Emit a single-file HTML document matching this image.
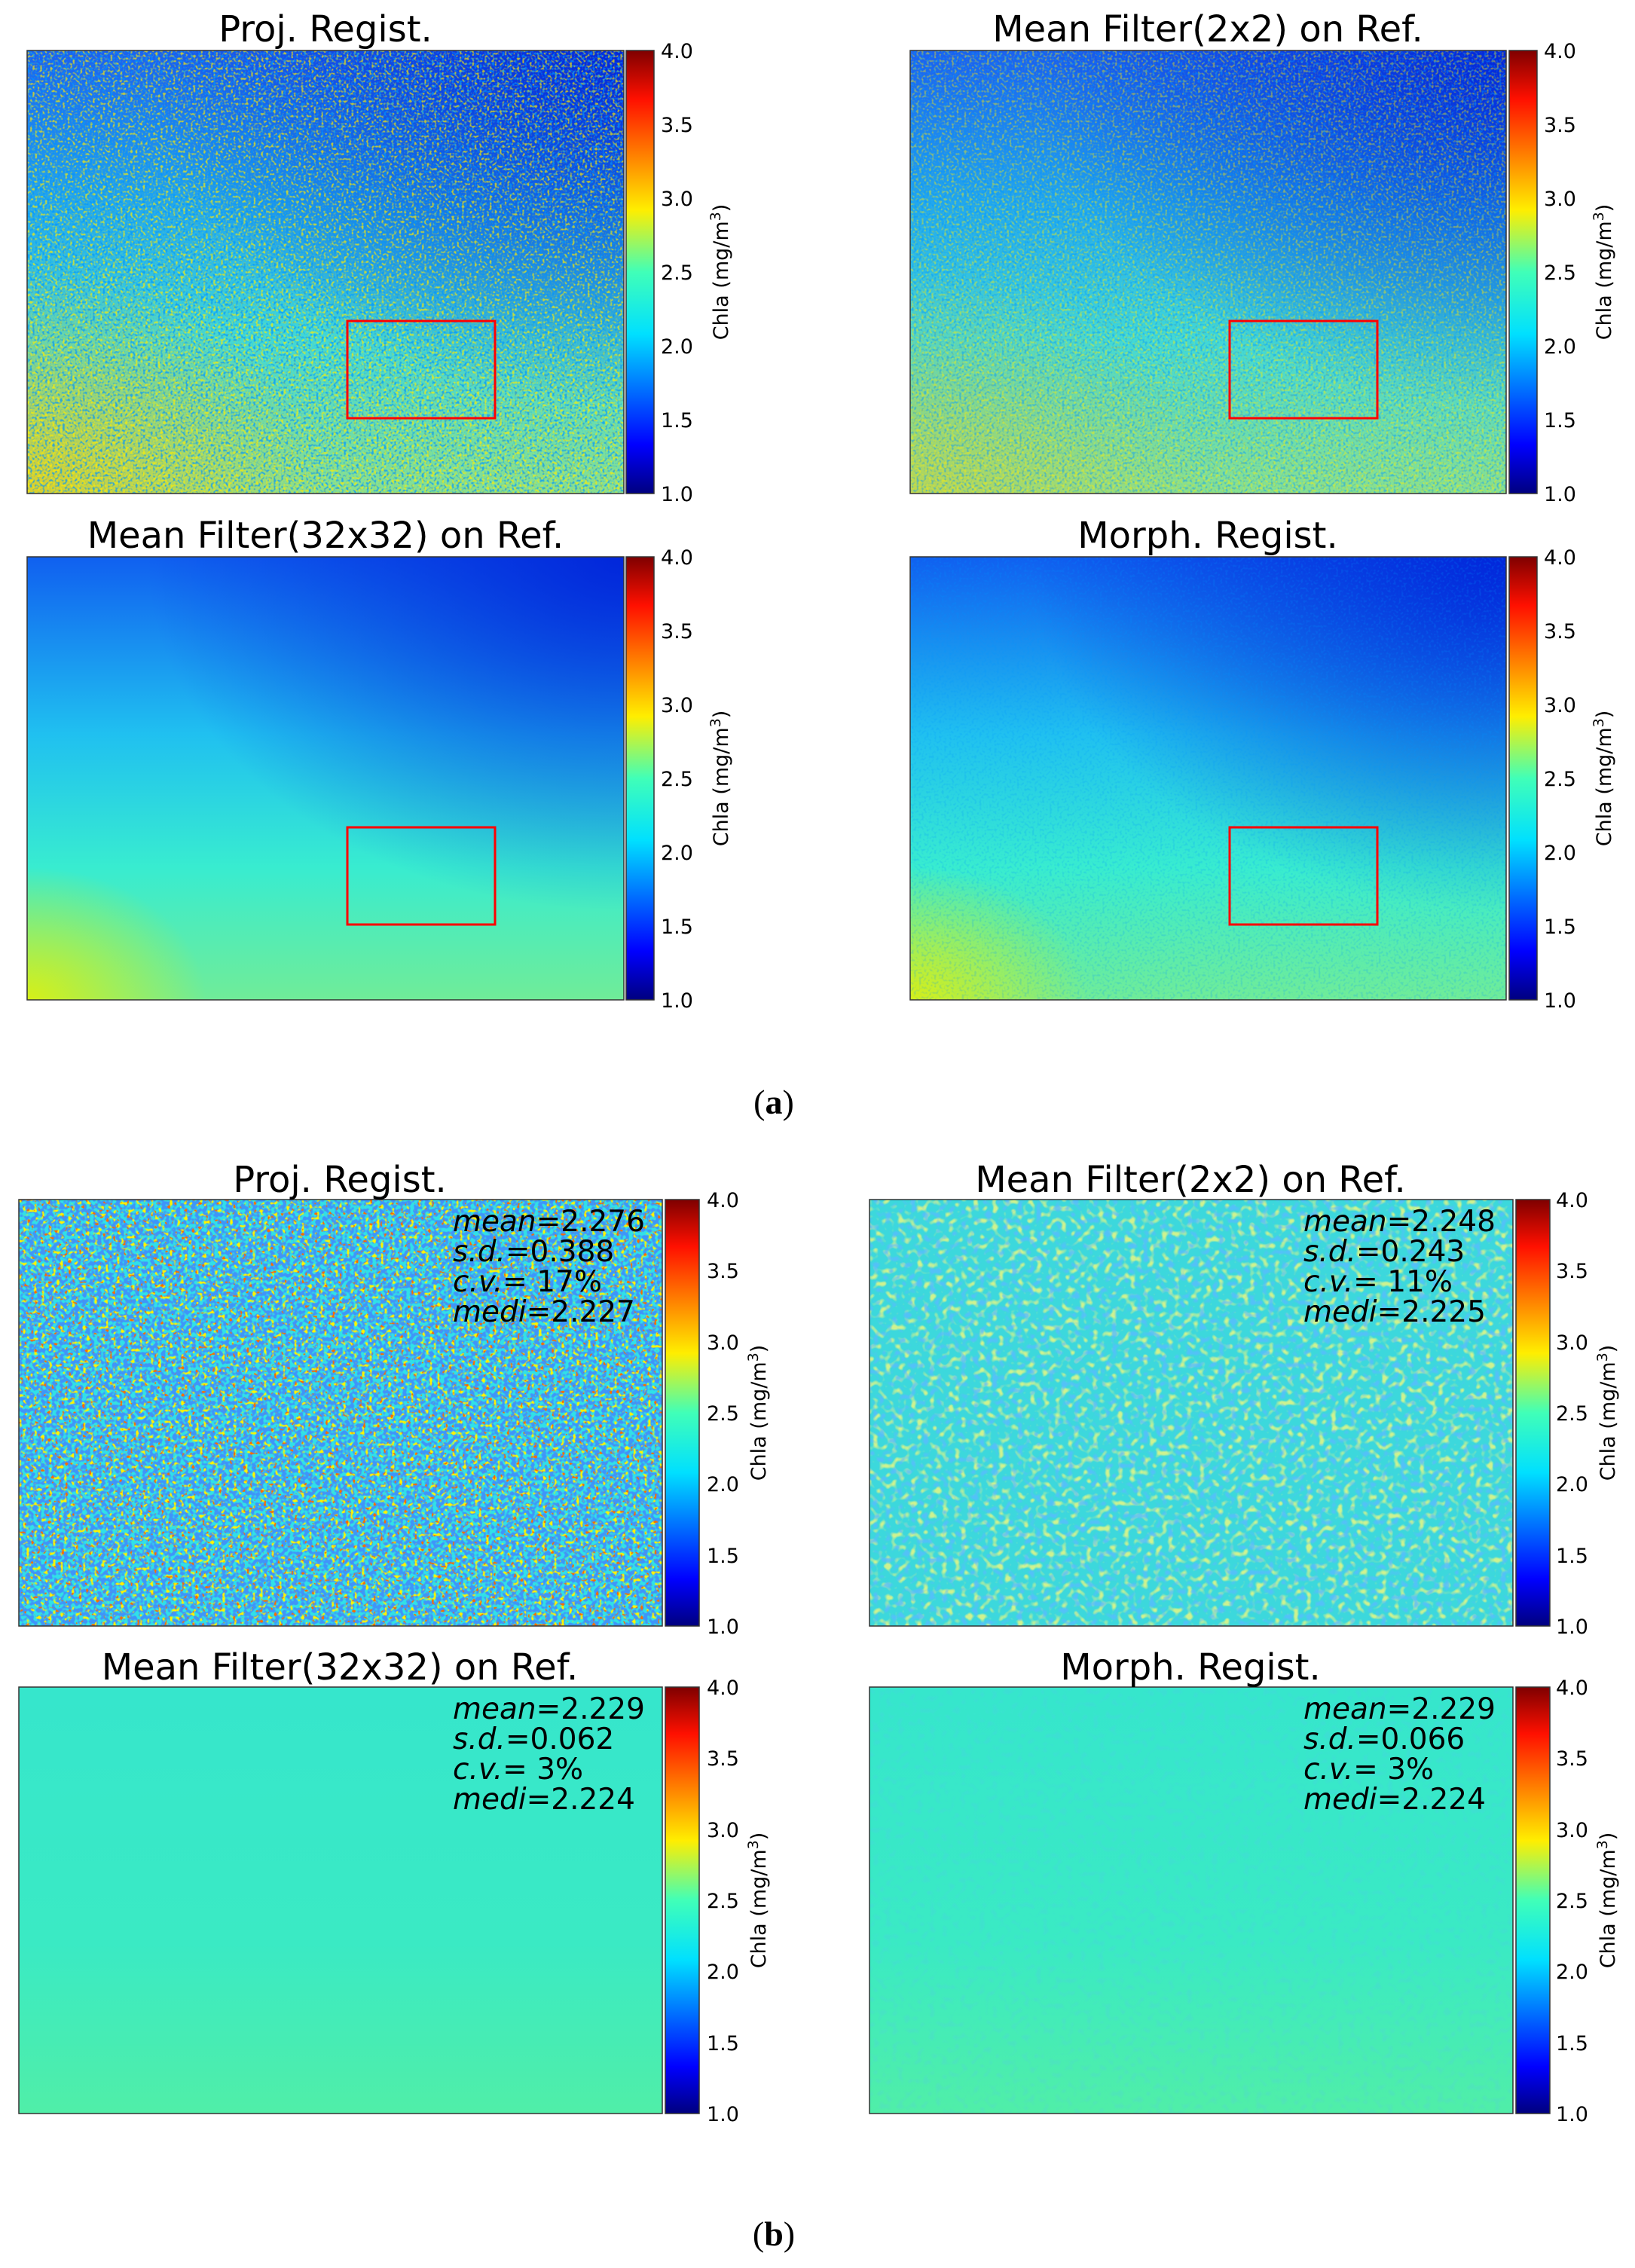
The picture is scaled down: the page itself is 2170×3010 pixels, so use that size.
<!DOCTYPE html>
<html><head><meta charset="utf-8"><style>
html,body{margin:0;padding:0;background:#fff;}
svg{display:block}
text{font-family:"DejaVu Sans","Liberation Sans",sans-serif;fill:#000}
</style></head><body>
<svg width="2170" height="3010" viewBox="0 0 2170 3010" xmlns="http://www.w3.org/2000/svg">
<defs>
<linearGradient id="jet" x1="0" y1="1" x2="0" y2="0">
<stop offset="0" stop-color="#00007f"/><stop offset="0.11" stop-color="#0000ff"/>
<stop offset="0.36" stop-color="#00e0ff"/><stop offset="0.5" stop-color="#40ffb8"/>
<stop offset="0.64" stop-color="#ffee00"/><stop offset="0.89" stop-color="#ff1000"/>
<stop offset="1" stop-color="#7f0000"/></linearGradient>
<linearGradient id="gA" x1="0" y1="0" x2="0" y2="1">
<stop offset="0" stop-color="#1a60f0"/><stop offset="0.35" stop-color="#20a8f0"/>
<stop offset="0.65" stop-color="#40d8d8"/><stop offset="1" stop-color="#88e090"/></linearGradient>
<linearGradient id="gS" x1="0" y1="0" x2="0" y2="1">
<stop offset="0" stop-color="#1060f0"/><stop offset="0.4" stop-color="#20c0f0"/>
<stop offset="0.7" stop-color="#38ecd0"/><stop offset="1" stop-color="#70ec98"/></linearGradient>
<radialGradient id="tr" cx="1" cy="0" r="0.8"><stop offset="0" stop-color="#0020d8" stop-opacity="0.9"/><stop offset="1" stop-color="#0020d8" stop-opacity="0"/></radialGradient>
<radialGradient id="bl" cx="0" cy="1" r="0.5"><stop offset="0" stop-color="#ffc800" stop-opacity="0.7"/><stop offset="1" stop-color="#ffc800" stop-opacity="0"/></radialGradient>
<radialGradient id="bl2" cx="0" cy="1" r="0.3"><stop offset="0" stop-color="#e8f000" stop-opacity="0.85"/><stop offset="1" stop-color="#e8f000" stop-opacity="0"/></radialGradient>
<linearGradient id="gF" x1="0" y1="0" x2="0" y2="1"><stop offset="0" stop-color="#36e6cc"/><stop offset="0.6" stop-color="#3aeac4"/><stop offset="1" stop-color="#50eea8"/></linearGradient>
<filter id="ny" x="0" y="0" width="1" height="1"><feTurbulence type="fractalNoise" baseFrequency="0.3" seed="3"/><feColorMatrix values="0 0 0 0 1 0 0 0 0 0.85 0 0 0 0 0 5 0 0 0 -2.5"/></filter>
<filter id="nb" x="0" y="0" width="1" height="1"><feTurbulence type="fractalNoise" baseFrequency="0.3" seed="9"/><feColorMatrix values="0 0 0 0 0 0 0 0 0 0.3 0 0 0 0 1 5 0 0 0 -2.5"/></filter>
<filter id="nyb" x="0" y="0" width="1" height="1"><feTurbulence type="fractalNoise" baseFrequency="0.2" seed="4"/><feColorMatrix values="0 0 0 0 1 0 0 0 0 0.9 0 0 0 0 0 7 0 0 0 -4.0"/></filter>
<filter id="nbb" x="0" y="0" width="1" height="1"><feTurbulence type="fractalNoise" baseFrequency="0.2" seed="12"/><feColorMatrix values="0 0 0 0 0.05 0 0 0 0 0.3 0 0 0 0 0.95 7 0 0 0 -2.9"/></filter>
<filter id="nrb" x="0" y="0" width="1" height="1"><feTurbulence type="fractalNoise" baseFrequency="0.22" seed="21"/><feColorMatrix values="0 0 0 0 0.95 0 0 0 0 0.15 0 0 0 0 0 10 0 0 0 -6.3"/></filter>
<filter id="ny2" x="0" y="0" width="1" height="1"><feTurbulence type="fractalNoise" baseFrequency="0.12" seed="5"/><feColorMatrix values="0 0 0 0 0.9 0 0 0 0 0.95 0 0 0 0 0.2 5 0 0 0 -2.6"/></filter>
<filter id="nb2" x="0" y="0" width="1" height="1"><feTurbulence type="fractalNoise" baseFrequency="0.12" seed="11"/><feColorMatrix values="0 0 0 0 0.1 0 0 0 0 0.5 0 0 0 0 1 5 0 0 0 -2.6"/></filter>
</defs>

<!-- A1 -->
<rect x="36" y="67" width="792" height="588" fill="url(#gA)"/>
<rect x="36" y="67" width="792" height="588" fill="url(#tr)"/>
<rect x="36" y="67" width="792" height="588" fill="url(#bl)"/>
<rect x="36" y="67" width="792" height="588" filter="url(#ny)" opacity="0.7"/>
<rect x="36" y="67" width="792" height="588" filter="url(#nb)" opacity="0.7"/>
<rect x="461" y="426" width="196" height="129" fill="none" stroke="#f00" stroke-width="3"/>
<rect x="36" y="67" width="792" height="588" fill="none" stroke="#333" stroke-width="1.5"/>
<text x="432" y="55" font-size="48" text-anchor="middle">Proj. Regist.</text>
<!-- A2 -->
<rect x="1208" y="67" width="791" height="588" fill="url(#gA)"/>
<rect x="1208" y="67" width="791" height="588" fill="url(#tr)"/>
<rect x="1208" y="67" width="791" height="588" fill="url(#bl)" opacity="0.6"/>
<rect x="1208" y="67" width="791" height="588" filter="url(#ny)" opacity="0.45"/>
<rect x="1208" y="67" width="791" height="588" filter="url(#nb)" opacity="0.45"/>
<rect x="1632" y="426" width="196" height="129" fill="none" stroke="#f00" stroke-width="3"/>
<rect x="1208" y="67" width="791" height="588" fill="none" stroke="#333" stroke-width="1.5"/>
<text x="1603" y="55" font-size="48" text-anchor="middle">Mean Filter(2x2) on Ref.</text>
<!-- A3 -->
<rect x="36" y="739" width="792" height="588" fill="url(#gS)"/>
<rect x="36" y="739" width="792" height="588" fill="url(#tr)"/>
<rect x="36" y="739" width="792" height="588" fill="url(#bl2)"/>
<rect x="461" y="1098" width="196" height="129" fill="none" stroke="#f00" stroke-width="3"/>
<rect x="36" y="739" width="792" height="588" fill="none" stroke="#333" stroke-width="1.5"/>
<text x="432" y="727" font-size="48" text-anchor="middle">Mean Filter(32x32) on Ref.</text>
<!-- A4 -->
<rect x="1208" y="739" width="791" height="588" fill="url(#gS)"/>
<rect x="1208" y="739" width="791" height="588" fill="url(#tr)"/>
<rect x="1208" y="739" width="791" height="588" fill="url(#bl2)"/>
<rect x="1208" y="739" width="791" height="588" filter="url(#nb)" opacity="0.2"/>
<rect x="1632" y="1098" width="196" height="129" fill="none" stroke="#f00" stroke-width="3"/>
<rect x="1208" y="739" width="791" height="588" fill="none" stroke="#333" stroke-width="1.5"/>
<text x="1603" y="727" font-size="48" text-anchor="middle">Morph. Regist.</text>

<text x="1027" y="1478" font-size="46" text-anchor="middle" style="font-family:'Liberation Serif',serif">(<tspan font-weight="bold">a</tspan>)</text>

<!-- B1 -->
<rect x="25" y="1592" width="854" height="566" fill="#30e0e8"/>
<rect x="25" y="1592" width="854" height="566" filter="url(#nbb)"/>
<rect x="25" y="1592" width="854" height="566" filter="url(#nyb)"/>
<rect x="25" y="1592" width="854" height="566" filter="url(#nrb)"/>
<rect x="25" y="1592" width="854" height="566" fill="none" stroke="#333" stroke-width="1.5"/>
<text x="451" y="1582" font-size="48" text-anchor="middle">Proj. Regist.</text>
<g font-size="39"><text x="601" y="1634"><tspan font-style="italic">mean</tspan>=2.276</text>
<text x="601" y="1674"><tspan font-style="italic">s.d.</tspan>=0.388</text>
<text x="601" y="1714"><tspan font-style="italic">c.v.</tspan>= 17%</text>
<text x="601" y="1754"><tspan font-style="italic">medi</tspan>=2.227</text></g>
<!-- B2 -->
<rect x="1154" y="1592" width="854" height="566" fill="#3cd8dc"/>
<rect x="1154" y="1592" width="854" height="566" filter="url(#ny2)" opacity="0.8"/>
<rect x="1154" y="1592" width="854" height="566" filter="url(#nb2)" opacity="0.8"/>
<rect x="1154" y="1592" width="854" height="566" fill="none" stroke="#333" stroke-width="1.5"/>
<text x="1580" y="1582" font-size="48" text-anchor="middle">Mean Filter(2x2) on Ref.</text>
<g font-size="39"><text x="1730" y="1634"><tspan font-style="italic">mean</tspan>=2.248</text>
<text x="1730" y="1674"><tspan font-style="italic">s.d.</tspan>=0.243</text>
<text x="1730" y="1714"><tspan font-style="italic">c.v.</tspan>= 11%</text>
<text x="1730" y="1754"><tspan font-style="italic">medi</tspan>=2.225</text></g>
<!-- B3 -->
<rect x="25" y="2239" width="854" height="566" fill="url(#gF)"/>
<rect x="25" y="2239" width="854" height="566" fill="none" stroke="#333" stroke-width="1.5"/>
<text x="451" y="2229" font-size="48" text-anchor="middle">Mean Filter(32x32) on Ref.</text>
<g font-size="39"><text x="601" y="2281"><tspan font-style="italic">mean</tspan>=2.229</text>
<text x="601" y="2321"><tspan font-style="italic">s.d.</tspan>=0.062</text>
<text x="601" y="2361"><tspan font-style="italic">c.v.</tspan>=  3%</text>
<text x="601" y="2401"><tspan font-style="italic">medi</tspan>=2.224</text></g>
<!-- B4 -->
<rect x="1154" y="2239" width="854" height="566" fill="url(#gF)"/>
<rect x="1154" y="2239" width="854" height="566" filter="url(#nb2)" opacity="0.15"/>
<rect x="1154" y="2239" width="854" height="566" fill="none" stroke="#333" stroke-width="1.5"/>
<text x="1580" y="2229" font-size="48" text-anchor="middle">Morph. Regist.</text>
<g font-size="39"><text x="1730" y="2281"><tspan font-style="italic">mean</tspan>=2.229</text>
<text x="1730" y="2321"><tspan font-style="italic">s.d.</tspan>=0.066</text>
<text x="1730" y="2361"><tspan font-style="italic">c.v.</tspan>=  3%</text>
<text x="1730" y="2401"><tspan font-style="italic">medi</tspan>=2.224</text></g>

<text x="1027" y="2980" font-size="46" text-anchor="middle" style="font-family:'Liberation Serif',serif">(<tspan font-weight="bold">b</tspan>)</text>

<g font-size="27">
<rect x="831" y="67" width="37" height="588" fill="url(#jet)" stroke="#333" stroke-width="1.5"/>
<text x="877" y="77">4.0</text><text x="877" y="175">3.5</text><text x="877" y="273">3.0</text><text x="877" y="371">2.5</text><text x="877" y="469">2.0</text><text x="877" y="567">1.5</text><text x="877" y="665">1.0</text>
<text transform="translate(966,361) rotate(-90)" text-anchor="middle">Chla (mg/m<tspan dy="-10" font-size="19">3</tspan><tspan dy="10">)</tspan></text>
<rect x="2003" y="67" width="37" height="588" fill="url(#jet)" stroke="#333" stroke-width="1.5"/>
<text x="2049" y="77">4.0</text><text x="2049" y="175">3.5</text><text x="2049" y="273">3.0</text><text x="2049" y="371">2.5</text><text x="2049" y="469">2.0</text><text x="2049" y="567">1.5</text><text x="2049" y="665">1.0</text>
<text transform="translate(2138,361) rotate(-90)" text-anchor="middle">Chla (mg/m<tspan dy="-10" font-size="19">3</tspan><tspan dy="10">)</tspan></text>
<rect x="831" y="739" width="37" height="588" fill="url(#jet)" stroke="#333" stroke-width="1.5"/>
<text x="877" y="749">4.0</text><text x="877" y="847">3.5</text><text x="877" y="945">3.0</text><text x="877" y="1043">2.5</text><text x="877" y="1141">2.0</text><text x="877" y="1239">1.5</text><text x="877" y="1337">1.0</text>
<text transform="translate(966,1033) rotate(-90)" text-anchor="middle">Chla (mg/m<tspan dy="-10" font-size="19">3</tspan><tspan dy="10">)</tspan></text>
<rect x="2003" y="739" width="37" height="588" fill="url(#jet)" stroke="#333" stroke-width="1.5"/>
<text x="2049" y="749">4.0</text><text x="2049" y="847">3.5</text><text x="2049" y="945">3.0</text><text x="2049" y="1043">2.5</text><text x="2049" y="1141">2.0</text><text x="2049" y="1239">1.5</text><text x="2049" y="1337">1.0</text>
<text transform="translate(2138,1033) rotate(-90)" text-anchor="middle">Chla (mg/m<tspan dy="-10" font-size="19">3</tspan><tspan dy="10">)</tspan></text>
<rect x="883" y="1592" width="45" height="566" fill="url(#jet)" stroke="#333" stroke-width="1.5"/>
<text x="938" y="1602">4.0</text><text x="938" y="1696">3.5</text><text x="938" y="1791">3.0</text><text x="938" y="1885">2.5</text><text x="938" y="1979">2.0</text><text x="938" y="2074">1.5</text><text x="938" y="2168">1.0</text>
<text transform="translate(1016,1875) rotate(-90)" text-anchor="middle">Chla (mg/m<tspan dy="-10" font-size="19">3</tspan><tspan dy="10">)</tspan></text>
<rect x="2012" y="1592" width="45" height="566" fill="url(#jet)" stroke="#333" stroke-width="1.5"/>
<text x="2065" y="1602">4.0</text><text x="2065" y="1696">3.5</text><text x="2065" y="1791">3.0</text><text x="2065" y="1885">2.5</text><text x="2065" y="1979">2.0</text><text x="2065" y="2074">1.5</text><text x="2065" y="2168">1.0</text>
<text transform="translate(2143,1875) rotate(-90)" text-anchor="middle">Chla (mg/m<tspan dy="-10" font-size="19">3</tspan><tspan dy="10">)</tspan></text>
<rect x="883" y="2239" width="45" height="566" fill="url(#jet)" stroke="#333" stroke-width="1.5"/>
<text x="938" y="2249">4.0</text><text x="938" y="2343">3.5</text><text x="938" y="2438">3.0</text><text x="938" y="2532">2.5</text><text x="938" y="2626">2.0</text><text x="938" y="2721">1.5</text><text x="938" y="2815">1.0</text>
<text transform="translate(1016,2522) rotate(-90)" text-anchor="middle">Chla (mg/m<tspan dy="-10" font-size="19">3</tspan><tspan dy="10">)</tspan></text>
<rect x="2012" y="2239" width="45" height="566" fill="url(#jet)" stroke="#333" stroke-width="1.5"/>
<text x="2065" y="2249">4.0</text><text x="2065" y="2343">3.5</text><text x="2065" y="2438">3.0</text><text x="2065" y="2532">2.5</text><text x="2065" y="2626">2.0</text><text x="2065" y="2721">1.5</text><text x="2065" y="2815">1.0</text>
<text transform="translate(2143,2522) rotate(-90)" text-anchor="middle">Chla (mg/m<tspan dy="-10" font-size="19">3</tspan><tspan dy="10">)</tspan></text>
</g>
</svg>
</body></html>
